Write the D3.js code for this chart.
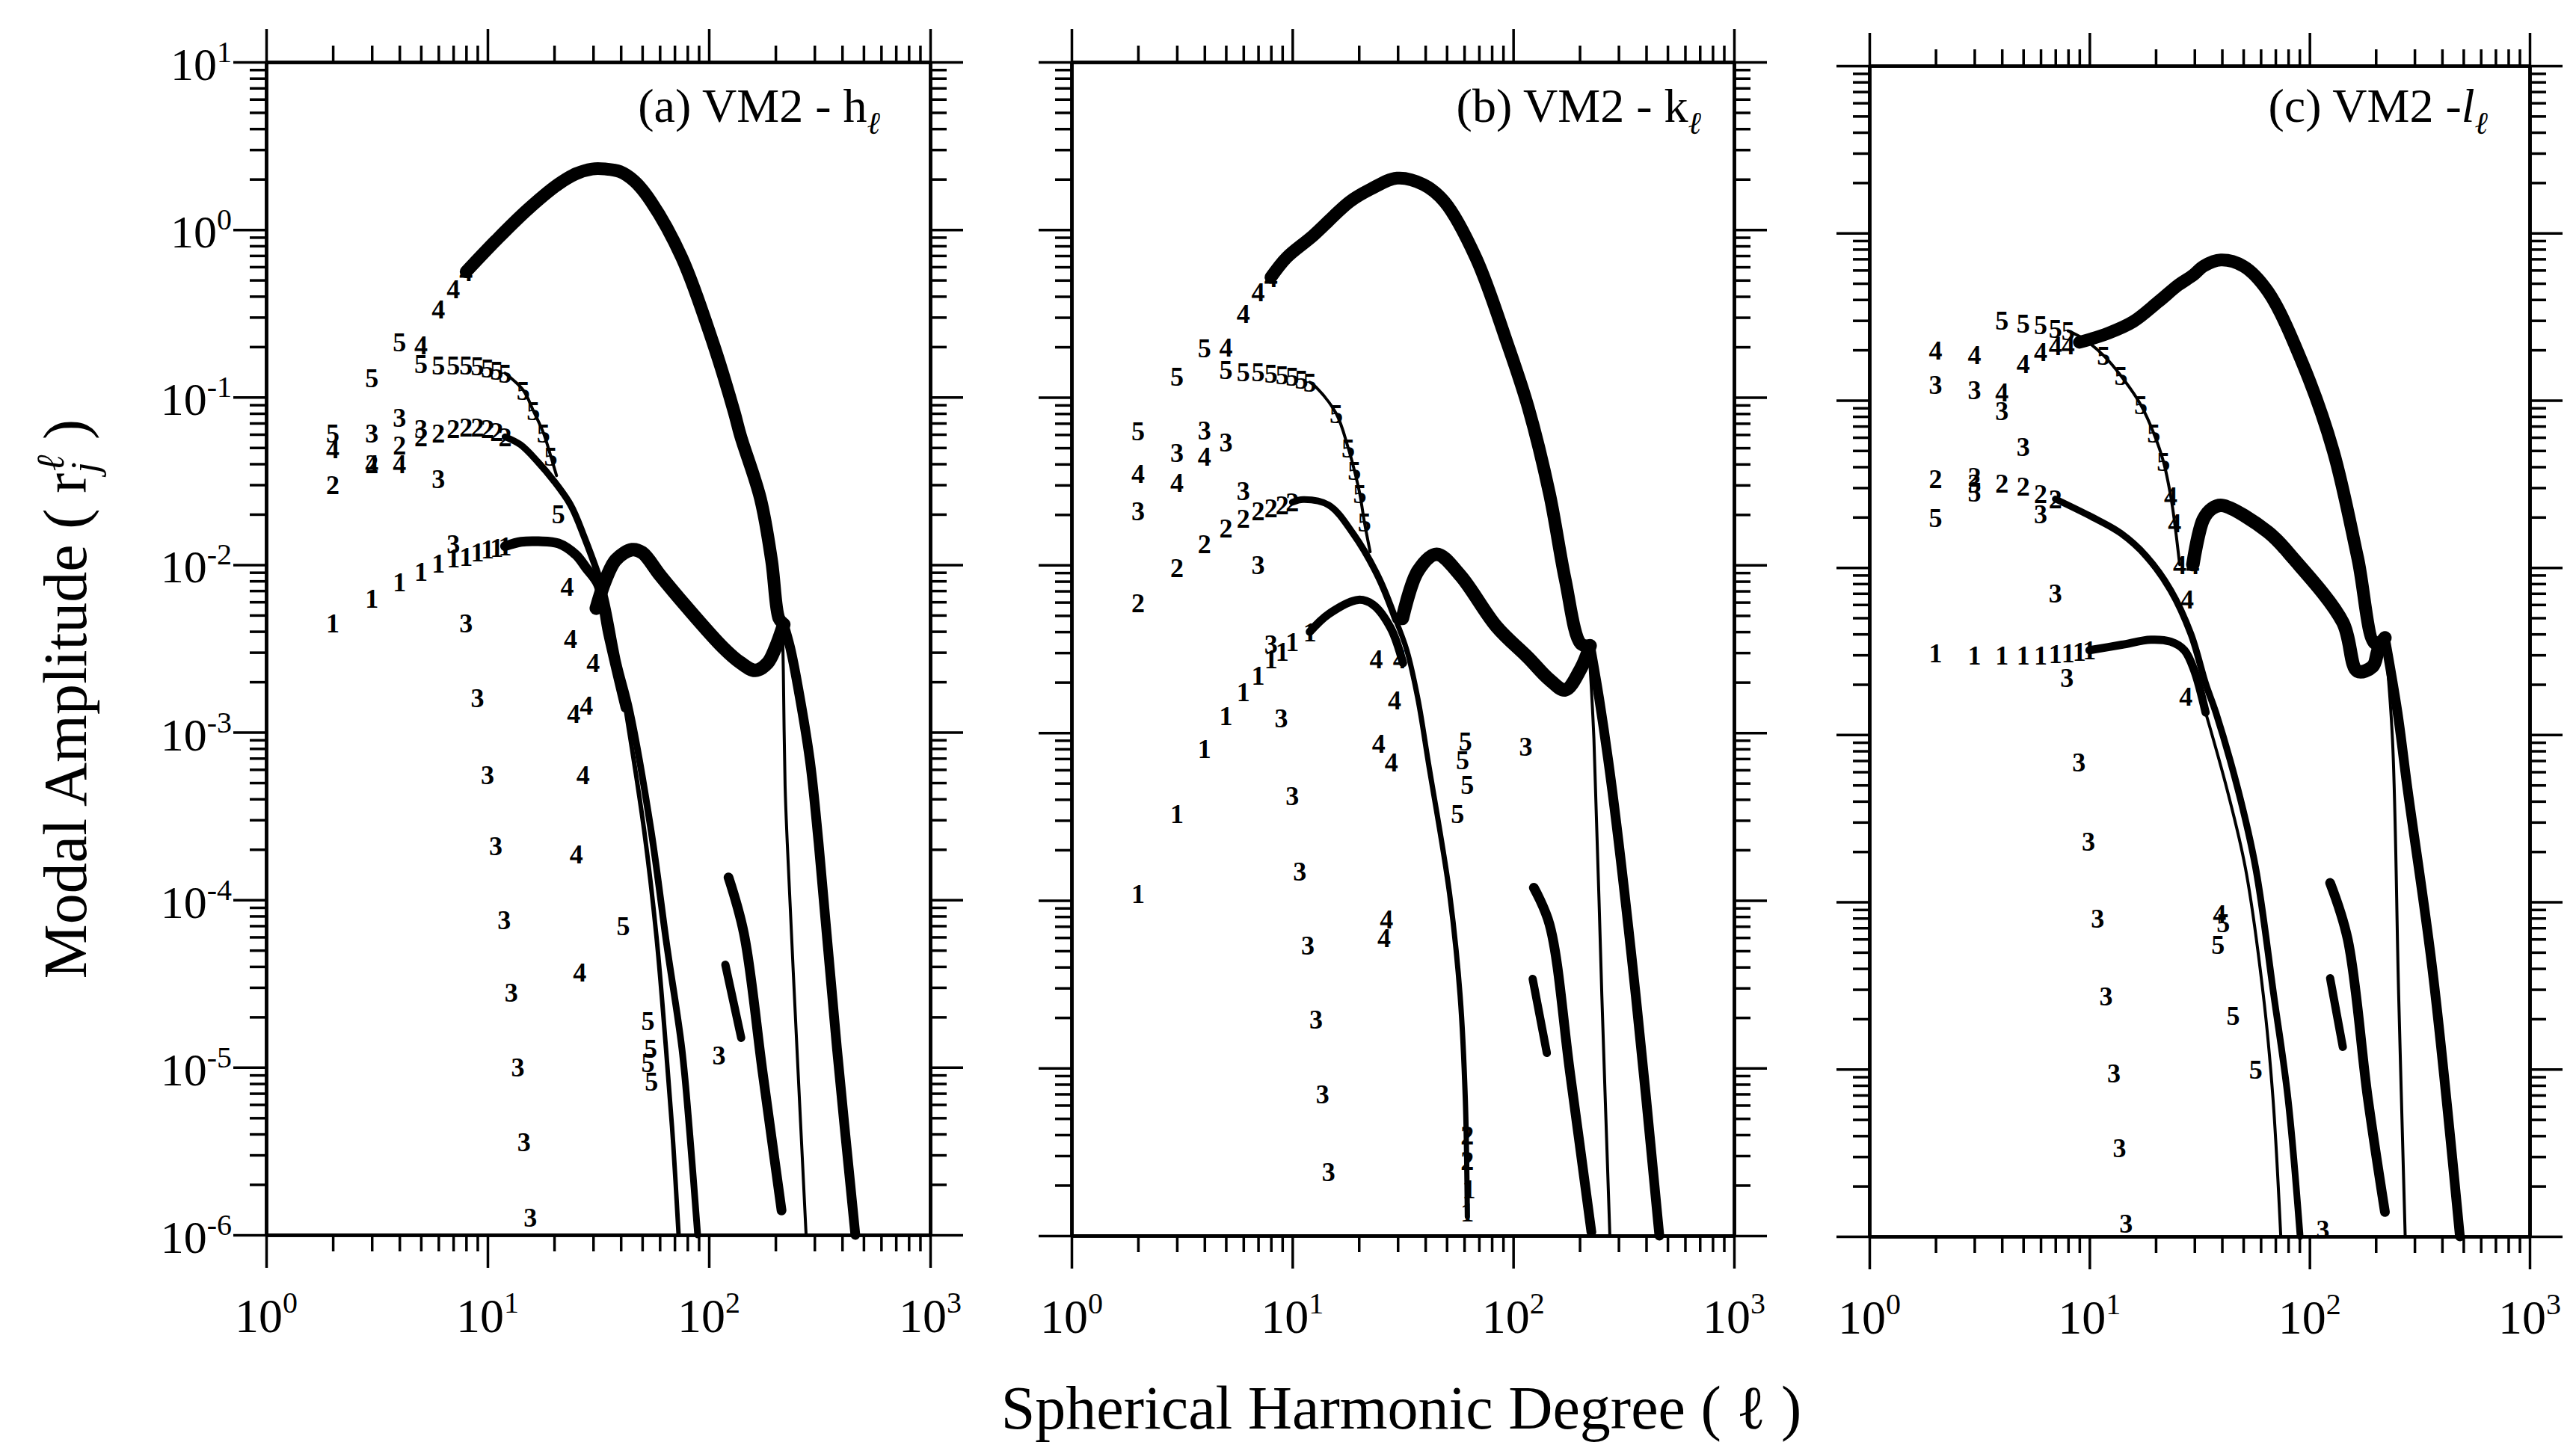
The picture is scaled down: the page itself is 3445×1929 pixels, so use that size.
<!DOCTYPE html>
<html lang="en">
<head>
<meta charset="utf-8">
<title>VM2 modal amplitudes</title>
<script src="https://cdn.jsdelivr.net/npm/d3@7"></script>
<style>
  body { margin: 0; padding: 0; background: #fff; }
  svg { display: block; background: #fff; font-family: "Liberation Serif", "Times New Roman", serif; }
  .digit { font-size: 36px; font-weight: bold; text-anchor: middle; }
  .band { fill: none; stroke: #000; stroke-linecap: round; stroke-linejoin: round; }
</style>
</head>
<body>
<svg id="chart" width="3445" height="1929"></svg>
<script>
// ---- axes ----
const xMajor = [1, 10, 100, 1000];
const xExp = ["0", "1", "2", "3"];
const yMajor = [1e-6, 1e-5, 1e-4, 1e-3, 1e-2, 1e-1, 1, 10];
const yExp = ["-6", "-5", "-4", "-3", "-2", "-1", "0", "1"];
const mantissa = [2, 3, 4, 5, 6, 7, 8, 9];

// ---- panel (a) h ----  [degree l, amplitude, marker]
const hDigits = [
  [2,4.5e-3,"1"],[3,6.3e-3,"1"],[4,7.9e-3,"1"],[5,9.1e-3,"1"],[6,0.0102,"1"],[7,0.011,"1"],[8,0.0112,"1"],[9,0.0119,"1"],[10,0.0124,"1"],[11,0.0127,"1"],[12,0.0129,"1"],
  [2,0.030,"2"],[3,0.040,"2"],[4,0.052,"2"],[5,0.058,"2"],[6,0.061,"2"],[7,0.0646,"2"],[8,0.066,"2"],[9,0.066,"2"],[10,0.0646,"2"],[11,0.062,"2"],[12,0.058,"2"],
  [3,0.061,"3"],[4,0.0755,"3"],[5,0.0646,"3"],[6,0.0325,"3"],[7,0.0134,"3"],[8,4.5e-3,"3"],[9,1.6e-3,"3"],[10,5.6e-4,"3"],[10.9,2.1e-4,"3"],[11.9,7.6e-5,"3"],[12.8,2.8e-5,"3"],[13.7,1e-5,"3"],[14.6,3.6e-6,"3"],[15.6,1.28e-6,"3"],[111,1.19e-5,"3"],
  [2,0.049,"4"],[3,0.040,"4"],[4,0.040,"4"],[5,0.206,"4"],[6,0.336,"4"],[7,0.445,"4"],[8,0.56,"4"],[22.9,7.4e-3,"4"],[23.7,3.6e-3,"4"],[30,2.6e-3,"4"],[24.5,1.3e-3,"4"],[28,1.45e-3,"4"],[27,5.6e-4,"4"],[25.2,1.87e-4,"4"],[26.1,3.7e-5,"4"],
  [2,0.061,"5"],[3,0.131,"5"],[4,0.214,"5"],[5,0.159,"5"],[6,0.156,"5"],[7,0.156,"5"],[8,0.155,"5"],[9,0.153,"5"],[10,0.149,"5"],[11,0.144,"5"],[12,0.139,"5"],[14.5,0.11,"5"],[16.1,0.083,"5"],[17.9,0.061,"5"],[19.3,0.0445,"5"],[20.9,0.0202,"5"],[41,7e-5,"5"],[53,1.9e-5,"5"],[54.5,1.3e-5,"5"],[53,1.07e-5,"5"],[55,8.3e-6,"5"]
];
const hBig = [[8,0.56],[10.9,0.86],[15.1,1.31],[20.8,1.86],[25,2.15],[29.7,2.3],[34,2.3],[39.6,2.22],[46,1.95],[54.8,1.47],[75.5,0.68],[104.5,0.21],[130,0.082],[139,0.0588],[171,0.0248],[192,0.0106],[207,4.8e-3],[215,4.5e-3]];
const hHump = [[31,5.5e-3],[34,8e-3],[38,0.0107],[45,0.0123],[50,0.0118],[60.4,8.6e-3],[78.4,5.7e-3],[116,3.2e-3],[139,2.6e-3],[162,2.34e-3],[184.5,2.6e-3],[200,3.2e-3],[218,4.4e-3]];
const hTail = [[218,4.4e-3],[233,3.2e-3],[252,1.9e-3],[286,6.8e-4],[313,2.2e-4],[379,1.3e-5],[459,1e-6]];
const hThin = [[215,4.5e-3],[217,2.3e-3],[221,4.8e-4],[226,2.2e-4],[250,1.3e-5],[275,1e-6]];
const h1Band = [[12,0.0129],[14.2,0.0137],[17,0.0138],[20.9,0.0134],[25,0.0115],[28,9.5e-3],[31.6,7.6e-3],[35,3.9e-3],[42,1.4e-3]];
const h1Tail = [[42,1.4e-3],[51,2.6e-4],[58,6e-5],[64,1.3e-5],[69,3.5e-6],[73,1e-6]];
const h2Band = [[12,0.058],[14.1,0.052],[16.9,0.041],[19.8,0.032],[23.7,0.0228],[27,0.0153],[33.3,7e-3],[38.8,2.6e-3],[44,1.35e-3],[54.8,2.6e-4],[64.5,5.4e-5],[75.5,1.3e-5],[82,4e-6],[89,1e-6]];
const h5Band = [[12,0.139],[14.5,0.11],[16.1,0.083],[17.9,0.061],[19.3,0.0445],[20.5,0.034]];
const hSegA = [[122.7,1.36e-4],[144,6.3e-5],[175,9.3e-6],[213,1.4e-6]];
const hSegB = [[118.7,4.1e-5],[140,1.5e-5]];

// ---- panel (b) k ----
const kDigits = [
  [2,1.1e-4,"1"],[3,3.3e-4,"1"],[4,8e-4,"1"],[5,1.26e-3,"1"],[6,1.76e-3,"1"],[7,2.2e-3,"1"],[8,2.75e-3,"1"],[9,3.06e-3,"1"],[10,3.5e-3,"1"],[12,4.0e-3,"1"],
  [62,4e-6,"2"],[62,2.8e-6,"2"],[63,1.9e-6,"1"],[62,1.38e-6,"1"],
  [2,5.97e-3,"2"],[3,9.6e-3,"2"],[4,0.0134,"2"],[5,0.0166,"2"],[6,0.019,"2"],[7,0.021,"2"],[8,0.0219,"2"],[9,0.0228,"2"],[10,0.0237,"2"],
  [2,0.021,"3"],[3,0.047,"3"],[4,0.064,"3"],[5,0.054,"3"],[6,0.0277,"3"],[7,0.010,"3"],[8,3.4e-3,"3"],[8.9,1.22e-3,"3"],[10,4.2e-4,"3"],[10.8,1.5e-4,"3"],[11.75,5.4e-5,"3"],[12.8,1.95e-5,"3"],[13.7,7e-6,"3"],[14.6,2.4e-6,"3"],[114,8.3e-4,"3"],
  [2,0.035,"4"],[3,0.031,"4"],[4,0.0445,"4"],[5,0.2,"4"],[6,0.317,"4"],[7,0.426,"4"],[8,0.52,"4"],[24,2.75e-3,"4"],[30.6,2.75e-3,"4"],[29,1.56e-3,"4"],[24.6,8.6e-4,"4"],[28.1,6.7e-4,"4"],[26.7,7.7e-5,"4"],[26,6e-5,"4"],
  [2,0.063,"5"],[3,0.134,"5"],[4,0.198,"5"],[5,0.147,"5"],[6,0.142,"5"],[7,0.142,"5"],[8,0.139,"5"],[9,0.137,"5"],[10,0.134,"5"],[11,0.128,"5"],[12,0.123,"5"],[15.8,0.08,"5"],[17.9,0.05,"5"],[19.1,0.0366,"5"],[20.2,0.0266,"5"],[21.2,0.018,"5"],[60.7,8.9e-4,"5"],[59,6.9e-4,"5"],[62,4.9e-4,"5"],[56,3.3e-4,"5"]
];
const kBig = [[8,0.52],[9.4,0.68],[12.4,0.92],[18.2,1.47],[22.7,1.75],[29.8,2.03],[39.2,1.86],[48.8,1.47],[67.8,0.68],[94,0.21],[117,0.087],[146,0.0266],[172,8.2e-3],[202,3.4e-3],[220,3.3e-3]];
const kHump = [[31.5,4.8e-3],[37,9.2e-3],[45,0.0116],[57.5,8.7e-3],[84,4.3e-3],[117,2.8e-3],[146,2.07e-3],[172,1.8e-3],[202,2.4e-3],[223,3.3e-3]];
const kTail = [[223,3.3e-3],[245,1.6e-3],[281,4.5e-4],[359,2.7e-5],[459,1e-6]];
const kThin = [[220,3.3e-3],[232,9.2e-4],[252,2.7e-5],[274,1e-6]];
const k1Band = [[12,4.0e-3],[14.6,5.1e-3],[19.9,6.2e-3],[23.2,5.8e-3],[27.9,4.2e-3],[31.7,2.6e-3]];
const k2Band = [[10,0.0237],[11.2,0.0246],[14.6,0.0228],[18.9,0.0153],[24.5,8.5e-3],[29.4,4.7e-3]];
const k5Band = [[12,0.123],[12.8,0.115],[15.8,0.08],[17.9,0.05],[19.1,0.0366],[20.2,0.0266],[21.2,0.018],[22.5,0.012]];
const kTailBand = [[29.4,4.7e-3],[33,3.1e-3],[37,1.6e-3],[41.4,6.5e-4],[51.5,1.1e-4],[57.5,2.7e-5],[60.7,6.5e-6],[62,1.3e-6]];
const kSegA = [[124,1.19e-4],[146,7.2e-5],[181,9.3e-6],[226,1.05e-6]];
const kSegB = [[122.5,3.4e-5],[142,1.23e-5]];

// ---- panel (c) l ----
const lDigits = [
  [2,3.1e-3,"1"],[3,3.0e-3,"1"],[4,3.0e-3,"1"],[5,3.0e-3,"1"],[6,3.0e-3,"1"],[7,3.05e-3,"1"],[8,3.1e-3,"1"],[9,3.15e-3,"1"],[10,3.2e-3,"1"],
  [2,0.0338,"2"],[3,0.035,"2"],[4,0.0318,"2"],[5,0.0306,"2"],[6,0.0277,"2"],[7,0.0257,"2"],
  [2,0.124,"3"],[3,0.115,"3"],[4,0.087,"3"],[5,0.053,"3"],[3,0.0318,"3"],[6,0.021,"3"],[7,7e-3,"3"],[7.9,2.19e-3,"3"],[8.95,6.9e-4,"3"],[9.9,2.3e-4,"3"],[10.9,8e-5,"3"],[11.9,2.75e-5,"3"],[12.9,9.5e-6,"3"],[13.7,3.4e-6,"3"],[14.65,1.2e-6,"3"],[115,1.1e-6,"3"],
  [2,0.199,"4"],[3,0.188,"4"],[4,0.112,"4"],[5,0.166,"4"],[6,0.195,"4"],[7,0.211,"4"],[8,0.215,"4"],[23.4,0.0267,"4"],[24.4,0.0184,"4"],[25.7,0.0104,"4"],[29.5,0.0104,"4"],[27.8,6.5e-3,"4"],[27.4,1.7e-3,"4"],[39,8.5e-5,"4"],
  [2,0.0199,"5"],[3,0.0283,"5"],[4,0.30,"5"],[5,0.29,"5"],[6,0.284,"5"],[7,0.27,"5"],[8,0.26,"5"],[11.6,0.185,"5"],[13.9,0.14,"5"],[17.1,0.094,"5"],[19.6,0.0634,"5"],[21.7,0.0428,"5"],[38.4,5.6e-5,"5"],[40.5,7.5e-5,"5"],[45,2.1e-5,"5"],[57,1.0e-5,"5"]
];
const lBig = [[9,0.222],[12.2,0.252],[15.8,0.295],[20.6,0.389],[25.4,0.49],[29.6,0.56],[33,0.634],[39.5,0.69],[50,0.634],[64.7,0.447],[93.5,0.163],[128,0.05],[165.5,0.0114],[199,3.5e-3],[220,3.8e-3]];
const lHump = [[29.5,0.0104],[32.9,0.0194],[36,0.0225],[40,0.0235],[64.7,0.0163],[84,0.0114],[141.6,4.7e-3],[165,2.4e-3],[193.6,2.56e-3],[205,3.2e-3],[220,3.8e-3]];
const lTail = [[220,3.8e-3],[251,1.36e-3],[279,4.7e-4],[362,3.9e-5],[482,1e-6]];
const lThin = [[220,3.8e-3],[238,9.5e-4],[254,2.8e-5],[272,1e-6]];
const l1Band = [[10,3.2e-3],[14,3.45e-3],[19,3.7e-3],[23.4,3.6e-3],[27,3.2e-3],[30,2.4e-3],[33.7,1.36e-3]];
const l1Tail = [[33.7,1.36e-3],[42.2,4.7e-4],[51.1,1.6e-4],[61.6,2.8e-5],[68.2,6.7e-6],[74,1e-6]];
const l2Band = [[7,0.0257],[10.7,0.0195],[13.9,0.016],[18.1,0.0117],[23.4,7.3e-3],[28.9,4.0e-3],[33.8,2.0e-3],[37.5,1.36e-3],[47.3,4.7e-4],[56.9,1.6e-4],[68.7,2.8e-5],[79.8,6.7e-6],[90.6,1e-6]];
const l5Band = [[8,0.26],[9.4,0.233],[11.6,0.185],[13.9,0.14],[17.1,0.094],[19.6,0.0634],[21.7,0.0428],[23.4,0.0267],[24.4,0.0184],[25.7,0.0104]];
const lSegA = [[124,1.3e-4],[149,6e-5],[184,6.7e-6],[220,1.4e-6]];
const lSegB = [[124,3.5e-5],[141.6,1.36e-5]];

// ---- layout ----
const panels = [
  { left: 356, right: 1244, top: 83, bottom: 1652, yLabels: true,
    title: ["(a) VM2 - h", ""], titleEnd: 1177, digits: hDigits,
    bands: [[h2Band, 9], [h5Band, 4], [h1Band, 13], [h1Tail, 6], [hThin, 4], [hTail, 13], [hHump, 18], [hBig, 17], [hSegA, 13], [hSegB, 11]] },
  { left: 1433, right: 2319, top: 83, bottom: 1653, yLabels: false,
    title: ["(b) VM2 - k", ""], titleEnd: 2275, digits: kDigits,
    bands: [[k2Band, 9], [k5Band, 4], [k1Band, 11], [kTailBand, 7], [kThin, 4], [kTail, 13], [kHump, 18], [kBig, 17], [kSegA, 13], [kSegB, 11]] },
  { left: 2500, right: 3383, top: 88, bottom: 1654, yLabels: false,
    title: ["(c) VM2 -", "l"], titleEnd: 3327, digits: lDigits,
    bands: [[l2Band, 9], [l5Band, 4], [l1Band, 11], [l1Tail, 4], [lThin, 4], [lTail, 13], [lHump, 18], [lBig, 17], [lSegA, 13], [lSegB, 11]] }
];

const svg = d3.select("#chart");
const xMinor = [];
[1, 10, 100].forEach(d => mantissa.forEach(m => xMinor.push(m * d)));
const yMinor = [];
yMajor.slice(0, -1).forEach(d => mantissa.forEach(m => yMinor.push(m * d)));

function styleAxis(sel) {
  sel.select(".domain").attr("stroke", "#000").attr("stroke-width", 4.5);
  sel.selectAll(".tick line").attr("stroke", "#000").attr("stroke-width", 3.5);
  sel.selectAll(".tick text").remove();
}

panels.forEach(p => {
  const W = p.right - p.left, H = p.bottom - p.top;
  const x = d3.scaleLog().domain([1, 1000]).range([0, W]);
  const y = d3.scaleLog().domain([1e-6, 10]).range([H, 0]);
  const g = svg.append("g").attr("transform", "translate(" + p.left + "," + p.top + ")");

  // frame: outward ticks on all four sides
  const sides = [
    [d3.axisBottom, x, xMinor, xMajor, "translate(0," + H + ")"],
    [d3.axisTop, x, xMinor, xMajor, null],
    [d3.axisLeft, y, yMinor, yMajor, null],
    [d3.axisRight, y, yMinor, yMajor, "translate(" + W + ",0)"]
  ];
  sides.forEach(s => {
    [[s[2], 22], [s[3], 44]].forEach(t => {
      const a = g.append("g").call(s[0](s[1]).tickValues(t[0]).tickSize(t[1]).tickSizeOuter(0).tickFormat(""));
      if (s[4]) a.attr("transform", s[4]);
      styleAxis(a);
    });
  });

  // x tick labels
  const xl = g.append("g").attr("font-size", 64);
  xMajor.forEach((v, i) => {
    const t = xl.append("text").attr("x", x(v)).attr("y", H + 130).attr("text-anchor", "middle");
    t.append("tspan").text("10");
    t.append("tspan").attr("font-size", 40).attr("dy", -26).text(xExp[i]);
  });

  // y tick labels (first panel only)
  if (p.yLabels) {
    const yl = g.append("g").attr("font-size", 62);
    yMajor.forEach((v, i) => {
      const t = yl.append("text").attr("x", -46).attr("y", y(v) + 24).attr("text-anchor", "end");
      t.append("tspan").text("10");
      t.append("tspan").attr("font-size", 40).attr("dy", -24).text(yExp[i]);
    });
  }

  // curves (dense marker runs drawn as bands)
  const line = d3.line().x(d => x(d[0])).y(d => y(d[1])).curve(d3.curveCatmullRom.alpha(0.5));
  p.bands.forEach(b => {
    g.append("path").attr("class", "band").attr("d", line(b[0])).attr("stroke-width", b[1]);
  });

  // numbered mode markers
  g.selectAll("text.digit").data(p.digits).join("text")
    .attr("class", "digit")
    .attr("x", d => x(d[0]))
    .attr("y", d => y(d[1]))
    .attr("dy", "0.35em")
    .text(d => d[2]);

  // panel title
  const tt = svg.append("text").attr("x", p.titleEnd).attr("y", 163).attr("text-anchor", "end").attr("font-size", 64);
  tt.append("tspan").text(p.title[0]);
  if (p.title[1]) tt.append("tspan").attr("font-style", "italic").text(p.title[1]);
  tt.append("tspan").attr("font-size", 42).attr("font-style", "italic").attr("dy", 16).text("ℓ");
});

// axis titles
svg.append("text").attr("x", 1874).attr("y", 1911).attr("text-anchor", "middle").attr("font-size", 82)
  .text("Spherical Harmonic Degree ( ℓ )");

const yt = svg.append("text").attr("transform", "translate(115,935) rotate(-90)")
  .attr("text-anchor", "middle").attr("font-size", 82);
yt.append("tspan").text("Modal Amplitude ( r");
yt.append("tspan").attr("font-size", 52).attr("font-style", "italic").attr("dy", 16).text("j");
yt.append("tspan").attr("font-size", 52).attr("font-style", "italic").attr("dx", -12).attr("dy", -46).text("ℓ");
yt.append("tspan").attr("dy", 30).text(" )");
</script>
</body>
</html>
